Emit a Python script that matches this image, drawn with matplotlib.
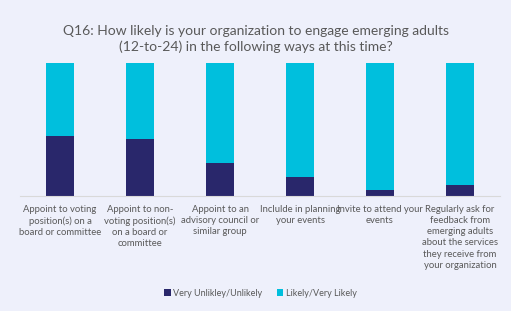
import matplotlib.pyplot as plt

categories = [
    "Appoint to voting\nposition(s) on a\nboard or committee",
    "Appoint to non-\nvoting position(s)\non a board or\ncommittee",
    "Appoint to an\nadvisory council or\nsimilar group",
    "Inclulde in planning\nyour events",
    "Invite to attend your\nevents",
    "Regularly ask for\nfeedback from\nemerging adults\nabout the services\nthey receive from\nyour organization",
]
unlikely = [45, 43, 25, 14, 4.5, 8]
likely = [55, 57, 75, 86, 95.5, 92]

dark = "#29276b"
cyan = "#00bfdd"
grey = "#595959"

plt.rcParams['font.family'] = ['Lato', 'DejaVu Sans']

fig = plt.figure(figsize=(5.11, 3.11), dpi=100)
fig.patch.set_facecolor("#eef0fb")
bg = fig.add_axes([7 / 511, 2 / 311, 1, 307 / 311], zorder=-1)
bg.set_facecolor("white")
bg.axis("off")
bg.patch.set_visible(True)

ax = fig.add_axes([20 / 511, 115 / 311, 480 / 511, 133 / 311])
ax.set_facecolor("none")
x = list(range(len(categories)))
ax.bar(x, unlikely, width=0.36, color=dark, label="Very Unlikley/Unlikely")
ax.bar(x, likely, width=0.36, bottom=unlikely, color=cyan, label="Likely/Very Likely")
ax.set_xlim(-0.5, 5.5)
ax.set_ylim(0, 100)
ax.set_yticks([])
ax.set_xticks([])
for s in ["top", "right", "left"]:
    ax.spines[s].set_visible(False)
ax.spines["bottom"].set_color("#d9d9d9")
ax.spines["bottom"].set_linewidth(0.8)

for i, lab in enumerate(categories):
    ax.text(i, -6.5, lab, ha="center", va="top", fontsize=6.8, color=grey,
            linespacing=1.32)

fig.text(0.5, 1 - 39 / 311, "Q16: How likely is your organization to engage emerging adults\n(12-to-24) in the following ways at this time?",
         ha="center", va="center", fontsize=10, color=grey, linespacing=1.28)

leg = fig.legend(loc="center", bbox_to_anchor=(0.51, 18 / 311), ncol=2, frameon=False,
                 fontsize=6.5, handlelength=0.7, handleheight=0.7, columnspacing=1.6,
                 handletextpad=0.3)
for t in leg.get_texts():
    t.set_color(grey)

fig.savefig("out.png", dpi=100)
